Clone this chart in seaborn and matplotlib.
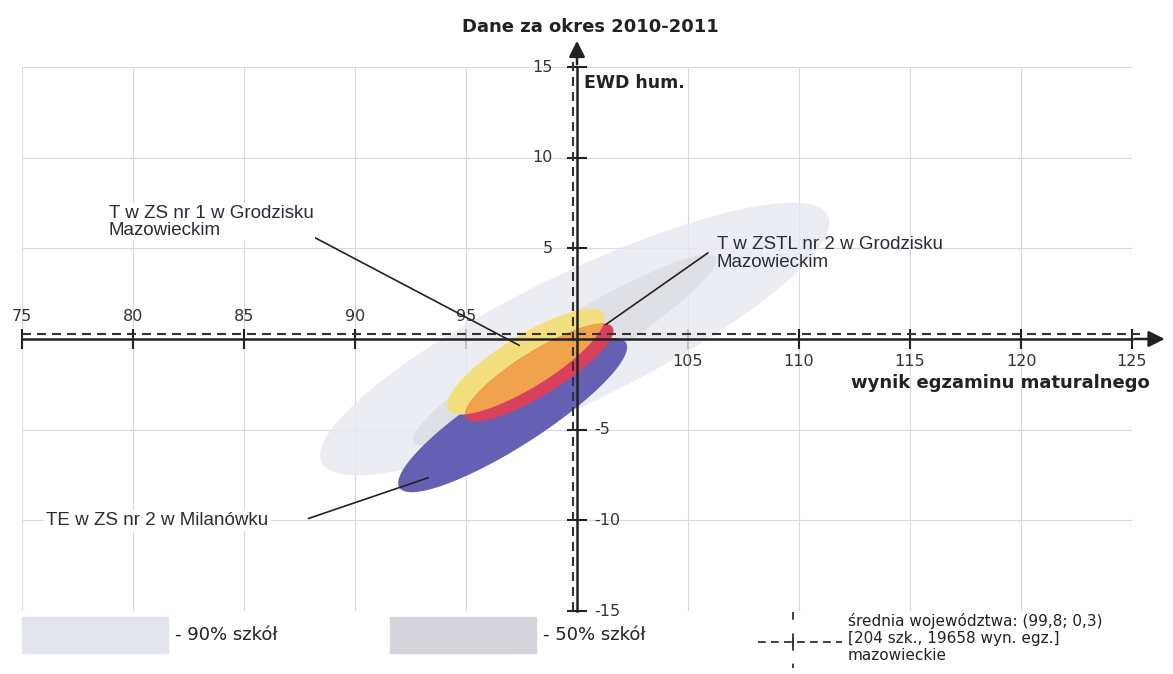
import numpy as np
import pandas as pd
import matplotlib
matplotlib.use("Agg")
import matplotlib.pyplot as plt
from matplotlib.patches import Rectangle
from matplotlib.lines import Line2D
import seaborn as sns

# ellipses (centre, half of major axis, half of minor axis - all in data units)
groups = ["90% szkół", "50% szkół", "TE w ZS nr 2 w Milanówku",
          "T w ZS nr 1 w Grodzisku Mazowieckim", "T w ZSTL nr 2 w Grodzisku Mazowieckim"]
center_x = [99.9, 99.45, 97.1, 97.7, 98.3]
center_y = [0.0, -0.6, -4.2, -1.25, -1.85]
major_dx = [11.4, 6.8, 5.1, 3.5, 3.3]
major_dy = [6.8, 5.1, 4.0, 2.65, 2.5]
minor_dx = [1.25, 0.66, 0.76, 0.62, 0.53]
minor_dy = [-3.2, -1.3, -1.43, -1.21, -1.02]
fill_colors = ["#e7e9f1", "#d6d7dd", "#6660b5", "#f4df7e", "#d9405c"]
overlap_color = "#f0a24c"

mean_x = 99.8
mean_y = 0.3

x_ticks = [75, 80, 85, 90, 95, 100, 105, 110, 115, 120, 125]
y_ticks = [-15, -10, -5, 0, 5, 10, 15]

# school labels + leader lines
label_text = ["T w ZS nr 1 w Grodzisku\nMazowieckim",
              "T w ZSTL nr 2 w Grodzisku\nMazowieckim",
              "TE w ZS nr 2 w Milanówku"]
label_x = [78.9, 106.3, 76.1]
label_y = [6.45, 4.7, -10.0]
leader_x0 = [87.4, 105.9, 87.9]
leader_y0 = [6.1, 4.75, -9.9]
leader_x1 = [97.4, 101.3, 93.3]
leader_y1 = [-0.35, 0.8, -7.65]

sns.set_theme(style="white")
plt.rcParams["font.family"] = ["DejaVu Sans"]

W, H = 1173, 674
fig = plt.figure(figsize=(W / 100, H / 100), dpi=100)
ax = fig.add_axes([22 / W, 63 / H, 1110 / W, 544 / H])
ax.set_xlim(75, 125)
ax.set_ylim(-15, 15)
ax.set_xticks(x_ticks)
ax.set_yticks(y_ticks)
ax.grid(True, color="#d9dae0", lw=0.8)
ax.set_axisbelow(True)

for s in ["top", "right"]:
    ax.spines[s].set_visible(False)
ax.spines["bottom"].set_position(("data", 0))
ax.spines["left"].set_position(("data", 100))
for s in ["bottom", "left"]:
    ax.spines[s].set_color("#222222")
    ax.spines[s].set_linewidth(1.8)
    ax.spines[s].set_zorder(6)
ax.tick_params(bottom=True, left=True, labelbottom=False, labelleft=False,
               direction="inout", length=14, width=1.5, color="#222222")

# ellipses
t = np.linspace(0, 2 * np.pi, 300)
polys = []
for i in range(len(groups)):
    ex = center_x[i] + np.cos(t) * major_dx[i] + np.sin(t) * minor_dx[i]
    ey = center_y[i] + np.cos(t) * major_dy[i] + np.sin(t) * minor_dy[i]
    if i == 0:
        p = ax.fill(ex, ey, color=fill_colors[i], lw=0, alpha=0.8, zorder=1)[0]
    elif i == 1:
        p = ax.fill(ex, ey, color=fill_colors[i], lw=0, alpha=0.55, zorder=1.1)[0]
    else:
        p = ax.fill(ex, ey, color=fill_colors[i], lw=0, zorder=2 + i * 0.1)[0]
    polys.append(p)

# overlap of the two Grodzisk schools
ex = center_x[4] + np.cos(t) * major_dx[4] + np.sin(t) * minor_dx[4]
ey = center_y[4] + np.cos(t) * major_dy[4] + np.sin(t) * minor_dy[4]
ov = ax.fill(ex, ey, color=overlap_color, lw=0, zorder=2.6)[0]
ov.set_clip_path(polys[3])

# mean of the voivodeship
ax.axvline(mean_x, ymin=0, ymax=1.015, color="#333333", lw=1.5,
           ls=(0, (4.3, 2.9)), clip_on=False, zorder=5)
ax.axhline(mean_y, xmin=0, xmax=1.007, color="#333333", lw=1.5,
           ls=(0, (4.3, 2.9)), clip_on=False, zorder=5)

# axis arrows
arr = dict(arrowstyle="-|>", color="#222222", lw=1.8, mutation_scale=24)
ax.annotate("", xy=(126.6, 0), xytext=(125, 0), arrowprops=arr, annotation_clip=False)
ax.annotate("", xy=(100, 16.6), xytext=(100, 15), arrowprops=arr, annotation_clip=False)

# tick labels next to the crossing axes
for v in x_ticks:
    if v == 100:
        continue
    off = 16 if v < 100 else -16.5
    ax.annotate(str(v), xy=(v, 0), xytext=(0, off), textcoords="offset points",
                ha="center", va="center", fontsize=11.5, color="#333333")
for v in y_ticks:
    if v == 0:
        continue
    if v > 0:
        ax.annotate(str(v), xy=(100, v), xytext=(-17.3, 0), textcoords="offset points",
                    ha="right", va="center", fontsize=11.5, color="#333333")
    else:
        ax.annotate(str(v), xy=(100, v), xytext=(12.2, 0), textcoords="offset points",
                    ha="left", va="center", fontsize=11.5, color="#333333")

ax.text(100.6, 17.2, "Dane za okres 2010-2011", ha="center", va="center",
        fontsize=13, fontweight="bold", color="#222222", clip_on=False)
ax.text(100.3, 14.1, "EWD hum.", ha="left", va="center", fontsize=12.5,
        fontweight="bold", color="#222222")
ax.text(125.8, -2.45, "wynik egzaminu maturalnego", ha="right", va="center",
        fontsize=13, fontweight="bold", color="#222222", clip_on=False)

# leader lines
leaders = pd.DataFrame({
    "x": leader_x0 + leader_x1,
    "y": leader_y0 + leader_y1,
    "school": [0, 1, 2, 0, 1, 2],
})
sns.lineplot(data=leaders, x="x", y="y", units="school", estimator=None, sort=False,
             color="#222222", lw=1.2, legend=False, ax=ax, zorder=7)
ax.set_xlabel("")
ax.set_ylabel("")

for i in range(3):
    bb = dict(fc="white", ec="none", pad=1.5) if i != 1 else None
    ax.text(label_x[i], label_y[i], label_text[i], ha="left", va="center",
            fontsize=13.5, family=["Liberation Sans", "DejaVu Sans"], color="#2b2b3b",
            linespacing=1.05, bbox=bb, zorder=8)


# legend below the plot (positions in pixels of the figure)
def fx(x):
    return x / W


def fy(y):
    return 1 - y / H


fig.patches.append(Rectangle((fx(22), fy(653)), 146 / W, 36 / H, transform=fig.transFigure,
                             color="#e3e5ec"))
fig.text(fx(175), fy(635), "- 90% szkół", ha="left", va="center", fontsize=13, color="#222222")
fig.patches.append(Rectangle((fx(390), fy(653)), 146 / W, 36 / H, transform=fig.transFigure,
                             color="#d4d4da"))
fig.text(fx(543), fy(635), "- 50% szkół", ha="left", va="center", fontsize=13, color="#222222")

fig.add_artist(Line2D([fx(758), fx(842)], [fy(642), fy(642)], color="#333333", lw=1.3,
                      ls=(0, (4.3, 2.9))))
fig.add_artist(Line2D([fx(793), fx(793)], [fy(612), fy(668)], color="#333333", lw=1.3,
                      ls=(0, (4.3, 10))))
fig.add_artist(Line2D([fx(793), fx(793)], [fy(634), fy(650)], color="#333333", lw=1.3))
legend_lines = ["średnia województwa: (99,8; 0,3)", "[204 szk., 19658 wyn. egz.]", "mazowieckie"]
for k, line in enumerate(legend_lines):
    fig.text(fx(848), fy(621 + 17 * k), line, ha="left", va="center", fontsize=11,
             color="#222222")

fig.savefig("out.png", dpi=100)
